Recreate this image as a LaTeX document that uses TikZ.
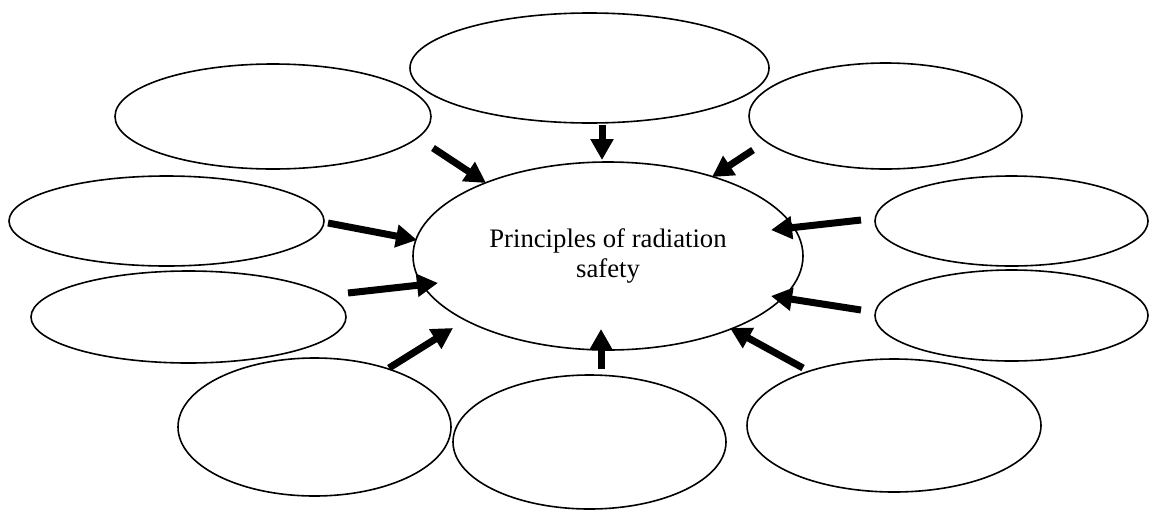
\documentclass[tikz,border=0pt]{standalone}
\usepackage{fontspec}
\setmainfont{Liberation Serif}
\usetikzlibrary{shapes.geometric,arrows.meta}
\begin{document}
\begin{tikzpicture}[x=1pt,y=-1pt,
  oval/.style={draw=black,line width=1.6pt,ellipse,inner sep=0pt,fill=white},
  arr/.style={line width=7pt,-{Triangle[width=22pt,length=21pt]}}]
\useasboundingbox (0,0) rectangle (1150,509);
% central ellipse
\node[oval,minimum width=390pt,minimum height=188pt,align=center,
      font=\fontsize{26.7}{30}\selectfont] (c) at (608,256) {Principles of radiation\\safety};
% outer ellipses
\node[oval,minimum width=359pt,minimum height=110pt] (top) at (589.5,68) {};
\node[oval,minimum width=316pt,minimum height=105pt] (tl) at (273,116.5) {};
\node[oval,minimum width=273pt,minimum height=106pt] (tr) at (885.5,116) {};
\node[oval,minimum width=315pt,minimum height=90pt] (lm) at (166.5,221) {};
\node[oval,minimum width=315pt,minimum height=92pt] (ll) at (188.5,317) {};
\node[oval,minimum width=273pt,minimum height=90pt] (rm) at (1011.5,221) {};
\node[oval,minimum width=273pt,minimum height=91pt] (rl) at (1011.5,315.5) {};
\node[oval,minimum width=273pt,minimum height=138pt] (bl) at (314.5,427) {};
\node[oval,minimum width=273pt,minimum height=134pt] (bm) at (589.5,442) {};
\node[oval,minimum width=294pt,minimum height=133pt] (br) at (894,425.5) {};
% arrow ends
\coordinate (top-s) at (602,125);  \coordinate (top-e) at (602,160);
\coordinate (tl-s) at (433,148);   \coordinate (tl-e) at (486,183);
\coordinate (tr-s) at (753,150);   \coordinate (tr-e) at (712,177);
\coordinate (lm-s) at (328,223);   \coordinate (lm-e) at (417,240);
\coordinate (ll-s) at (348,293);   \coordinate (ll-e) at (438,283);
\coordinate (rm-s) at (861,220);   \coordinate (rm-e) at (771,230);
\coordinate (rl-s) at (861,310);   \coordinate (rl-e) at (771,296);
\coordinate (bl-s) at (389,368);   \coordinate (bl-e) at (453,328);
\coordinate (bm-s) at (601,369);   \coordinate (bm-e) at (601,329);
\coordinate (br-s) at (803,368);   \coordinate (br-e) at (730,328);
\foreach \n in {top,tl,tr,lm,ll,rm,rl,bl,bm,br}
  \draw[arr] (\n-s) -- (\n-e);
\end{tikzpicture}
\end{document}
